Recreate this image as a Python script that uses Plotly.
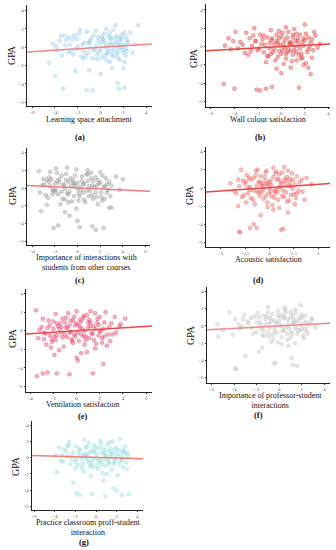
import plotly.graph_objects as go

W, H = 336, 550

# ---------------- data ----------------
# (a) Learning space attachment
a_x = [-4.2, -3.8, -3.5, -3.1, -2.8, -2.5, -2.2, -1.9, -1.6, -1.3,
       -1.0, -0.7, -0.4, -0.1, 0.2, 0.5, 0.8, 1.1, 1.4, 1.7,
       2.0, 2.2, 2.3, 2.1, 1.9, 1.6, 1.3, 1.0, 0.7, 0.4,
       0.1, -0.2, -0.5, -0.8, -1.1, -1.4, -1.7, -2.0, -2.3, -2.6,
       -3.0, -3.4, -3.9, -4.5, 2.4, 2.6, 3.0, 3.3, 2.8, 1.5,
       1.2, 0.9, 0.6, 0.3, 0.0, -0.3, -0.6, -0.9, -1.2, -1.5,
       -4.0, -3.3, -1.2, -0.7, 1.6, 1.5, 2.1, 0.0, -2.2, -1.0,
       1.0, 2.0, 1.8, 0.5, -0.2, 1.3, 2.2, 1.7, 0.8, -2.8,
       0.3, 0.6, 0.9, 1.2, 1.5, 1.8, 2.1, 2.3, 1.9, 1.4,
       1.0, 0.5, 0.0, -0.4, -0.9, -1.5, -2.1, -2.7, -3.6, 1.7,
       2.2, 0.8, 0.2, 1.1, 1.6, 2.0, -0.6, -1.0, 0.4, 1.3,
       -3.2, -2.4, -1.8, 0.7, 1.5, 2.3, 0.1, -0.3, 1.9, 0.9]
a_y = [0.4, -0.3, 1.2, 0.2, -0.6, 0.9, -0.2, 1.5, 0.3, -0.9,
       0.6, -1.2, 1.8, -0.5, 0.9, -1.4, 0.4, 1.9, -0.7, 0.8,
       0.2, 1.1, -0.4, -1.6, 1.4, -0.1, 2.4, -0.8, 1.2, 0.0,
       -1.1, 0.7, -0.3, 1.0, -0.6, 0.5, -1.0, 0.1, 1.3, -0.4,
       0.8, -0.9, 0.1, -1.7, 0.6, 1.6, 0.3, 2.4, -0.6, 0.5,
       -0.2, 0.3, -0.5, 1.5, 0.4, -0.8, 1.3, -0.1, 1.7, -1.2,
       -3.1, -4.5, -4.7, -4.7, -4.5, -3.9, -4.4, -2.9, -2.6, -2.5,
       -2.3, -2.3, 0.9, 2.0, 1.1, 1.0, -0.9, -1.4, -1.6, 1.1,
       0.6, -0.7, 1.0, 0.3, -0.5, 0.4, 1.6, 0.8, -0.3, 1.2,
       -0.4, 0.2, -0.2, 0.2, 0.7, -0.4, 0.9, 0.3, 0.7, 1.1,
       -0.2, 1.5, 0.8, -1.0, 0.1, -0.6, -0.3, 0.4, -0.9, 0.6,
       1.3, -0.8, 1.9, -0.2, -1.1, 0.3, 1.2, -1.3, 0.0, 0.9]

# (b) Wall colour satisfaction
b_x = [-4.8, -4.3, -3.9, -3.5, -3.1, -2.7, -2.3, -1.9, -1.5, -1.1,
       -0.8, -0.5, -0.2, 0.1, 0.4, 0.7, 1.0, 1.3, 1.6, 1.9,
       2.2, 2.5, 2.8, 3.1, 3.3, 2.0, 1.7, 1.4, 1.1, 0.8,
       0.5, 0.2, -0.1, -0.4, -0.7, -1.0, -1.3, -1.6, -2.0, -2.5,
       -3.0, -3.7, -4.1, 2.6, 2.3, 1.5, 0.9, 0.3, -0.3, -0.9,
       1.2, 1.8, 0.6, 0.0, -0.6, 2.1, 1.0, 0.4, -0.2, -1.4,
       -4.9, -4.0, -2.1, -1.8, -1.3, -0.8, 1.5, 2.5, 0.0, 2.3,
       -2.8, 1.9, 0.8, -0.4, 1.6, 2.7, -1.2, 0.1, 1.3, -2.2,
       0.2, 0.5, 0.8, 1.1, 1.4, 1.7, 2.0, 2.3, 2.6, 2.9,
       -0.3, -0.6, -0.9, -1.2, -1.5, -1.8, -2.2, -2.6, -3.3, -4.5,
       0.0, 0.6, 1.2, 1.8, 2.4, -0.8, -0.2, 0.9, 1.5, 2.1,
       -1.0, -0.4, 0.3, 0.7, 1.3, 1.9, -1.7, -2.4, 1.0, 0.4]
b_y = [0.1, -0.3, 1.6, 0.5, -0.7, 0.9, 2.0, -0.2, 1.2, -1.1,
       0.7, -1.5, 1.7, -0.4, 2.1, 0.3, -0.9, 1.4, -0.2, 0.9,
       -0.6, 0.4, 1.6, -0.1, 0.3, 2.4, -1.3, 0.6, 1.9, -0.5,
       1.0, -1.9, 0.2, 1.3, -0.6, 0.4, -1.7, 0.8, -0.4, 0.1,
       1.5, -0.2, 0.6, -1.2, 1.0, -0.9, 0.2, 0.7, -1.1, 1.8,
       0.0, 0.5, -0.3, -0.8, 0.3, -1.8, 1.0, -1.3, 0.9, 0.2,
       -4.1, -4.6, -4.7, -4.8, -4.6, -4.4, -4.5, -3.0, -2.9, -2.3,
       -0.9, -2.0, -2.3, -2.4, 1.3, -0.4, -1.0, 1.5, -1.5, 0.6,
       0.3, -0.6, 0.5, -0.4, 0.9, -0.8, 0.7, -0.3, 0.8, 1.2,
       0.4, -0.3, -0.8, 1.0, -0.6, 1.3, 0.6, -0.5, 0.2, 0.9,
       1.1, 1.6, 0.6, -1.2, 0.0, 0.9, -0.5, -1.6, 0.2, 1.4,
       -0.2, 0.6, -0.1, 0.4, -0.6, 0.1, 0.3, 1.2, 1.3, -0.8]

# (c) Importance of interactions with students from other courses
c_x = [-3.4, -3.1, -2.8, -2.5, -2.2, -1.9, -1.6, -1.3, -1.0, -0.7,
       -0.4, -0.1, 0.2, 0.5, 0.8, 1.1, 1.4, 1.7, 2.0, 2.3,
       2.6, 2.8, 2.5, 2.2, 1.9, 1.6, 1.3, 1.0, 0.7, 0.4,
       0.1, -0.2, -0.5, -0.8, -1.1, -1.4, -1.7, -2.0, -2.3, -2.6,
       -2.9, -3.3, 3.0, 3.4, 4.0, 3.7, 2.9, 0.0, -0.9, -1.8,
       1.5, 0.9, 0.3, -0.3, -0.6, -1.2, -2.1, 2.1, 1.2, -1.5,
       -3.2, -2.1, -1.7, -0.7, 0.0, 0.2, 1.3, 1.6, 2.3, 2.8,
       3.0, -1.1, -2.7, 0.6, 1.8, -0.1, 2.4, -2.4, 0.9, -0.8,
       -2.4, -2.0, -1.6, -1.2, -0.8, -0.4, 0.0, 0.4, 0.8, 1.2,
       1.6, 2.0, 2.4, 2.7, -2.7, -1.9, -1.0, -0.2, 0.6, 1.4,
       2.2, -2.2, -1.4, -0.6, 0.2, 1.0, 1.8, 2.6, -3.0, -1.8,
       -1.1, -0.3, 0.5, 1.3, 2.1, -0.9, 0.1, 0.9, 1.7, -2.5]
c_y = [1.9, 0.3, -0.8, 1.2, -0.2, 2.2, 0.6, -1.2, 1.6, -0.4,
       0.9, 2.1, -0.9, 0.4, 1.5, -0.3, 0.8, -1.0, 1.8, 0.1,
       -0.5, 0.7, 1.1, -1.4, 0.5, 1.2, -0.8, 0.2, -1.6, 1.3,
       -0.6, 0.3, -1.5, 0.7, -0.1, 1.4, -0.7, 0.5, 1.0, -1.1,
       0.4, -0.5, 0.3, 1.3, 1.0, -0.2, -0.9, 0.6, 2.3, 1.7,
       0.1, 0.8, -0.2, -0.9, 0.2, 0.3, -0.3, -0.5, 1.7, -1.8,
       -2.6, -4.5, -4.2, -3.1, -3.7, -4.4, -4.3, -4.7, -4.5, -2.2,
       -2.2, -2.7, -1.9, -1.3, -1.8, -2.3, -1.2, 1.8, 2.0, -1.6,
       0.2, -0.4, 1.0, 0.4, -0.7, 0.6, -0.1, 0.8, -0.3, 1.1,
       -0.5, 0.6, 0.2, -0.2, 0.9, -0.2, 0.9, 1.4, 0.5, -1.2,
       1.4, -0.7, -0.4, 1.1, 0.1, -0.9, 0.9, 0.4, 1.0, 0.8,
       -1.3, 0.5, -0.5, 0.3, -1.0, -0.6, -1.4, 1.6, 0.3, 0.7]

# (d) Acoustic satisfaction
d_x = [-4.0, -3.6, -3.2, -2.9, -2.6, -2.3, -2.0, -1.7, -1.4, -1.1,
       -0.8, -0.5, -0.2, 0.1, 0.4, 0.7, 1.0, 1.3, 1.6, 1.9,
       2.2, 2.5, 2.8, 3.1, 3.4, 3.8, 4.3, 2.0, 1.5, 1.1,
       0.8, 0.5, 0.2, -0.1, -0.4, -0.7, -1.0, -1.3, -1.6, -1.9,
       -2.2, -2.5, -2.8, -3.1, 2.7, 2.3, 1.7, 0.9, 0.3, -0.3,
       -0.9, -1.5, -2.1, 0.0, 0.6, 1.2, 1.8, 2.4, 3.0, -0.6,
       -3.1, -3.0, -2.0, -1.6, -1.3, 1.2, 1.4, -0.9, 1.9, -3.2,
       0.4, -0.2, 2.6, 1.0, -2.4, 3.6, -1.2, 0.7, 2.1, -0.4,
       -2.4, -2.0, -1.6, -1.2, -0.8, -0.4, 0.0, 0.4, 0.8, 1.2,
       1.6, 2.0, 2.4, 2.8, -1.9, -1.0, -0.2, 0.6, 1.4, 2.2,
       -2.7, -1.4, -0.6, 0.2, 1.0, 1.8, 2.6, -3.4, -0.3, 0.5,
       1.3, 2.1, -1.1, 0.9, 1.7, -2.2, 0.1, 1.5, -0.7, 3.3]
d_y = [0.5, -0.3, 0.9, 2.0, -0.8, 1.4, 0.1, -1.3, 1.9, 0.6,
       -0.5, 1.2, -1.6, 0.8, 2.2, -0.2, 1.5, -0.9, 0.4, 1.9,
       0.2, -0.7, 1.3, 0.6, -0.4, 1.1, 0.4, -1.4, 2.3, 0.1,
       0.9, -1.1, 0.3, -0.6, 1.7, 0.5, -0.9, 0.2, -0.3, 0.9,
       -0.6, 0.4, -1.0, 0.2, -1.1, 1.6, -0.5, 1.0, -1.9, 0.4,
       1.3, -1.8, 1.1, 0.0, -0.6, 0.7, -1.5, -0.1, -0.3, -1.2,
       -4.8, -4.9, -4.4, -4.0, -4.4, -4.6, -4.5, -3.0, -2.7, -2.0,
       -2.4, -2.1, -1.8, -2.2, -1.6, -1.3, 2.0, 1.8, 1.0, 0.8,
       0.7, -0.2, 1.1, -0.5, 0.3, -0.9, 0.6, 1.2, -0.4, 0.5,
       1.0, 0.2, 0.9, -0.6, -1.1, 0.7, 0.4, 1.6, -0.3, -0.8,
       0.8, 1.4, -0.2, -0.9, 0.1, 1.2, 0.4, -0.6, 1.9, -0.3,
       1.7, 0.6, -0.4, -1.3, 0.8, 0.0, -0.4, -1.0, 0.2, 0.9]

# (e) Ventilation satisfaction
e_x = [-3.3, -3.0, -2.7, -2.4, -2.1, -1.8, -1.5, -1.2, -0.9, -0.6,
       -0.3, 0.0, 0.3, 0.6, 0.9, 1.2, 1.5, 1.8, 2.1, 2.4,
       2.7, 3.0, 3.3, 3.7, 4.2, 2.9, 2.5, 2.2, 1.9, 1.6,
       1.3, 1.0, 0.7, 0.4, 0.1, -0.2, -0.5, -0.8, -1.1, -1.4,
       -1.7, -2.0, -2.3, -2.6, -2.9, -3.2, -3.5, 0.5, -0.4, 1.1,
       2.0, 0.8, -0.1, -1.0, -1.9, 1.7, 0.2, -0.7, -1.3, 3.4,
       -3.4, -2.9, -2.5, -1.7, -0.6, 1.4, 2.3, 0.1, -1.9, 0.0,
       0.9, -1.5, 1.6, -2.2, 0.4, 2.6, -0.3, -2.8, 1.2, 0.6,
       -2.5, -2.1, -1.7, -1.3, -0.9, -0.5, -0.1, 0.3, 0.7, 1.1,
       1.5, 1.9, 2.3, 2.8, -2.0, -1.2, -0.4, 0.4, 1.2, 2.0,
       -2.8, -1.6, -0.8, 0.0, 0.8, 1.6, 2.4, 3.1, -1.0, -0.2,
       0.6, 1.4, 2.2, -1.8, -2.3, 0.2, 1.0, -0.6, 1.8, 3.8]
e_y = [-0.8, 0.4, -0.3, 1.1, -1.2, 1.8, 0.2, -0.7, 1.4, 0.6,
       -1.3, 2.1, 0.3, -0.6, 1.7, 0.5, -1.0, 1.3, 0.0, 0.9,
       -0.4, 0.8, 1.5, 0.5, 1.3, -1.1, 2.0, -0.8, 0.6, 1.9,
       -0.3, 0.9, -1.5, 1.0, -0.2, 1.5, -0.1, 0.3, -1.7, 0.8,
       -0.5, 0.2, 0.6, -1.5, 1.3, 0.1, 2.2, 0.2, -0.9, 1.2,
       -0.1, -0.6, 0.6, -0.4, -0.6, -1.4, -1.1, 1.9, 0.4, -0.2,
       -4.9, -4.6, -4.5, -4.6, -4.7, -4.6, -3.6, -3.2, -2.6, -2.9,
       -2.3, -2.1, -1.9, -1.8, -2.4, -1.6, 1.1, -0.9, 2.1, 1.6,
       0.3, -0.9, 0.8, -0.2, 0.4, 1.1, -0.6, 1.2, 0.0, -0.8,
       0.5, -0.5, 0.2, 0.4, 1.0, 1.3, -1.1, -0.4, 0.9, 1.5,
       -0.2, 0.5, -0.7, 0.8, -1.0, 0.2, -0.6, -0.4, 0.9, -0.4,
       1.4, -0.3, -1.3, -1.0, -0.5, 0.6, 0.4, -0.2, 0.9, 0.7]

# (f) Importance of professor-student interactions
f_x = [-5.5, -5.0, -4.4, -3.9, -3.5, -3.1, -2.7, -2.3, -1.9, -1.6,
       -1.3, -1.0, -0.7, -0.4, -0.1, 0.2, 0.5, 0.8, 1.1, 1.4,
       1.7, 2.0, 2.3, 2.6, 2.9, 3.2, 2.2, 1.9, 1.6, 1.3,
       1.0, 0.7, 0.4, 0.1, -0.2, -0.5, -0.8, -1.1, -1.4, -1.7,
       -2.0, -2.5, -3.3, -4.1, 2.5, 1.5, 0.9, 0.3, -0.3, -0.9,
       1.2, 0.6, 0.0, -0.6, -1.2, 1.8, 2.4, -0.1, 0.5, 1.0,
       -3.9, -3.8, -3.0, -1.8, -0.5, -0.3, 1.1, 1.2, 1.6, -1.5,
       -5.4, 0.2, 0.8, 1.4, -0.7, 2.1, -2.2, -1.0, 2.0, -3.6,
       -2.0, -1.6, -1.2, -0.8, -0.4, 0.0, 0.4, 0.8, 1.2, 1.6,
       2.0, 2.4, -1.8, -1.0, -0.2, 0.6, 1.4, 2.2, -2.8, -1.4,
       -0.6, 0.2, 1.0, 1.8, 2.7, -0.9, -0.1, 0.7, 1.5, 2.3,
       -2.4, -3.2, 0.3, 1.1, 1.9, -0.5, 0.5, 1.3, -1.5, 2.9]
f_y = [0.2, -0.5, 1.6, 0.8, -0.3, 1.3, 0.3, -0.9, 1.5, 0.1,
       -1.1, 2.2, 0.5, -0.6, 1.7, -1.3, 2.1, 0.2, -0.7, 1.9,
       0.6, -0.4, 1.2, 0.1, 0.7, -0.2, -1.4, 2.4, -0.9, 0.4,
       1.0, -1.6, 0.9, 0.1, -0.8, 0.7, -0.2, 1.1, -0.5, 0.4,
       -0.7, 0.9, -0.1, -1.0, -0.9, 1.5, -0.3, 1.3, 0.3, -1.2,
       0.3, -0.2, 0.6, 1.4, 0.8, -0.5, 0.5, -1.9, 1.0, -1.4,
       -4.9, -5.0, -3.5, -3.0, -4.3, -4.3, -3.7, -4.5, -4.6, -2.5,
       -1.2, -2.1, -2.3, -2.0, -1.8, -1.1, 1.1, 1.6, 1.3, 0.2,
       0.4, -0.3, 0.2, 0.9, -0.2, 1.1, -0.5, 0.7, 1.3, -0.4,
       0.9, -0.6, 1.0, -0.7, 0.4, 1.6, -0.2, 0.3, 0.5, 1.2,
       -1.0, 0.0, 1.6, 1.0, 0.3, 0.3, 1.2, -0.9, 0.5, -0.3,
       -0.2, 0.8, -0.6, -1.0, 0.1, -1.5, 1.9, 0.8, -1.1, 0.9]

# (g) Practice classroom proff-student interaction
g_x = [-3.9, -3.6, -3.2, -2.9, -2.6, -2.3, -2.0, -1.7, -1.4, -1.1,
       -0.8, -0.5, -0.2, 0.1, 0.4, 0.7, 1.0, 1.3, 1.6, 1.9,
       2.2, 2.5, 2.8, 3.1, 2.6, 2.3, 2.0, 1.7, 1.4, 1.1,
       0.8, 0.5, 0.2, -0.1, -0.4, -0.7, -1.0, -1.3, -1.6, -1.9,
       -2.2, -2.5, -2.8, -3.1, -3.4, 2.9, 0.0, 0.9, -0.6, 1.5,
       2.4, 1.2, 0.3, -0.3, -0.9, -1.5, 1.8, 2.7, -2.0, 0.6,
       -2.2, -1.6, -1.9, -0.4, 0.9, 1.7, 2.0, 2.5, 3.2, -3.8,
       0.7, 2.1, -1.2, 1.0, -0.5, 3.0, 0.4, -2.7, 1.3, -0.9,
       -2.4, -2.0, -1.6, -1.2, -0.8, -0.4, 0.0, 0.4, 0.8, 1.2,
       1.6, 2.0, 2.4, 2.8, -1.8, -1.0, -0.2, 0.6, 1.4, 2.2,
       -2.7, -1.4, -0.6, 0.2, 1.0, 1.8, 2.6, -3.3, -0.3, 0.5,
       1.3, 2.1, -1.1, 0.9, 1.7, 3.0, 0.1, 1.5, -0.7, 2.5]
g_y = [0.3, 1.2, -0.5, 0.8, 1.9, -0.2, 1.4, 0.5, -1.2, 2.2,
       0.2, -0.9, 1.5, 0.4, -0.3, 1.1, -1.0, 0.7, 2.0, -0.4,
       0.9, -0.1, 1.3, 0.2, -1.2, 2.3, 0.5, -0.8, 0.1, 1.6,
       -0.3, 0.6, -1.4, 0.9, -0.6, 1.8, 0.0, -0.7, 0.9, -0.2,
       0.6, -0.8, 0.1, 1.0, -0.4, -0.6, -0.1, 0.3, -1.1, -1.5,
       0.4, -0.5, 1.2, -0.2, 0.5, 0.2, 1.0, 0.8, -1.3, -1.9,
       -3.1, -4.6, -4.4, -4.5, -4.7, -3.8, -4.1, -4.6, -4.5, -1.8,
       -2.8, -2.2, -1.7, -2.0, -2.3, -1.4, 2.1, 1.5, 1.9, 1.3,
       0.2, -0.5, 1.1, 0.4, -0.3, 0.8, 1.3, -0.6, 0.5, -0.2,
       0.6, 1.2, -0.4, 0.5, -0.9, 1.3, 0.6, -0.9, 1.1, -0.8,
       1.4, -0.1, 0.7, -0.4, 0.2, -0.1, 0.8, 0.3, -1.2, 1.7,
       -0.7, 0.1, 0.3, 0.9, -0.5, 0.6, -1.0, 0.4, -0.6, -0.2]

# Regression line parameters per panel (slope, intercept)
slopes = [0.08, 0.07, -0.06, 0.075, 0.078, 0.07, -0.037]
intercepts = [0.0, 0.0, 0.03, 0.03, 0.0, 0.0, 0.02]

x_titles = ["Learning space attachment",
            "Wall colour satisfaction",
            "Importance of interactions with<br>students from other courses",
            "Acoustic satisfaction",
            "Ventilation satisfaction",
            "Importance of professor-student<br>interactions",
            "Practice classroom proff-student<br>interaction"]
captions = ["(a)", "(b)", "(c)", "(d)", "(e)", "(f)", "(g)"]
y_ticks = [-6, -4, -2, 0, 2, 4]
x_ticks = [[-6, -4, -2, 0, 2, 4],
           [-6, -4, -2, 0, 2, 4],
           [-4, -2, 0, 2, 4, 6],
           [-5, -2.5, 0, 2.5, 5],
           [-4, -2, 0, 2, 4, 6],
           [-6, -4, -2, 0, 2, 4],
           [-6, -4, -2, 0, 2, 4]]

# ---------------- styling / layout ----------------
xs_all = [a_x, b_x, c_x, d_x, e_x, f_x, g_x]
ys_all = [a_y, b_y, c_y, d_y, e_y, f_y, g_y]

# pixel boxes: left, right, top, bottom
boxes = [(27, 152, 5, 106), (206, 330, 4, 107),
         (27, 150, 148, 245), (206, 330, 147, 247),
         (26, 152, 289, 392), (207, 330, 287, 383),
         (32, 143, 421, 510)]
xranges = [[-6.44, 4.5], [-6.42, 4.15], [-4.45, 6.4], [-6.5, 6.2],
           [-4.35, 6.5], [-6.4, 4.5], [-6.2, 4.55]]
yranges = [[-6.4, 4.6], [-6.6, 4.65], [-6.4, 4.5], [-6.5, 4.5],
           [-6.6, 4.5], [-6.6, 4.5], [-6.45, 4.5]]
rgb = [(150, 205, 235), (228, 55, 55), (150, 150, 150), (238, 95, 95),
       (232, 60, 105), (195, 195, 195), (150, 222, 222)]
line_cols = ["#f08585", "#e8433e", "#e87f7f", "#e84848", "#e84a4a", "#f08a8a", "#f07f72"]
# annotation positions (px)
title_pos = [(89, 119.5), (268, 119.5), (86, 262), (268, 259.5),
             (83, 404.5), (270, 400), (88, 527)]
cap_pos = [(80, 137), (260, 137), (80, 280), (258, 280), (83, 416), (258, 415), (84, 541.5)]
gpa_pos = [(12, 55), (193, 58), (13, 195), (190, 195), (12, 338), (190, 335), (15, 466)]

SERIF = "Liberation Serif"
fig = go.Figure()
layout = {}
annotations = []

for i in range(7):
    n = i + 1
    sfx = "" if n == 1 else str(n)
    xa, ya = "x" + sfx, "y" + sfx
    r, g, b = rgb[i]
    fig.add_trace(go.Scatter(
        x=xs_all[i], y=ys_all[i], mode="markers", xaxis=xa, yaxis=ya,
        marker=dict(size=3.8, color=f"rgba({r},{g},{b},0.38)",
                    line=dict(color=f"rgba({r},{g},{b},0.75)", width=0.5)),
        showlegend=False, hoverinfo="skip"))
    lx = list(xranges[i])
    ly = [slopes[i] * v + intercepts[i] for v in lx]
    fig.add_trace(go.Scatter(
        x=lx, y=ly, mode="lines", xaxis=xa, yaxis=ya,
        line=dict(color=line_cols[i], width=1.5),
        showlegend=False, hoverinfo="skip"))
    L, R, T, B = boxes[i]
    common = dict(showline=True, linecolor="#222", linewidth=0.8, ticks="outside",
                  ticklen=1.5, tickwidth=0.6, tickcolor="#333", showgrid=False,
                  zeroline=False, tickfont=dict(size=4.8, color="#555", family=SERIF))
    layout["xaxis" + sfx] = dict(domain=[L / W, R / W], range=xranges[i], anchor=ya,
                                 tickvals=x_ticks[i], **common)
    layout["yaxis" + sfx] = dict(domain=[1 - B / H, 1 - T / H], range=yranges[i], anchor=xa,
                                 tickvals=y_ticks, **common)
    tx, ty = title_pos[i]
    annotations.append(dict(text=x_titles[i], x=tx / W, y=1 - ty / H,
                            xref="paper", yref="paper", showarrow=False,
                            xanchor="center", yanchor="middle", align="center",
                            font=dict(family=SERIF, size=8, color="#111")))
    cx, cy = cap_pos[i]
    annotations.append(dict(text="<b>" + captions[i] + "</b>", x=cx / W, y=1 - cy / H,
                            xref="paper", yref="paper", showarrow=False,
                            xanchor="center", yanchor="middle",
                            font=dict(family=SERIF, size=8.5, color="#111")))
    gx, gy = gpa_pos[i]
    annotations.append(dict(text="GPA", x=gx / W, y=1 - gy / H, textangle=-90,
                            xref="paper", yref="paper", showarrow=False,
                            xanchor="center", yanchor="middle",
                            font=dict(family=SERIF, size=10, color="#111")))

fig.update_layout(width=W, height=H, margin=dict(l=0, r=0, t=0, b=0),
                  paper_bgcolor="white", plot_bgcolor="white",
                  annotations=annotations, **layout)
fig.write_html("out.html", config={"displayModeBar": False},
               post_script="document.body.style.margin='0px';")
